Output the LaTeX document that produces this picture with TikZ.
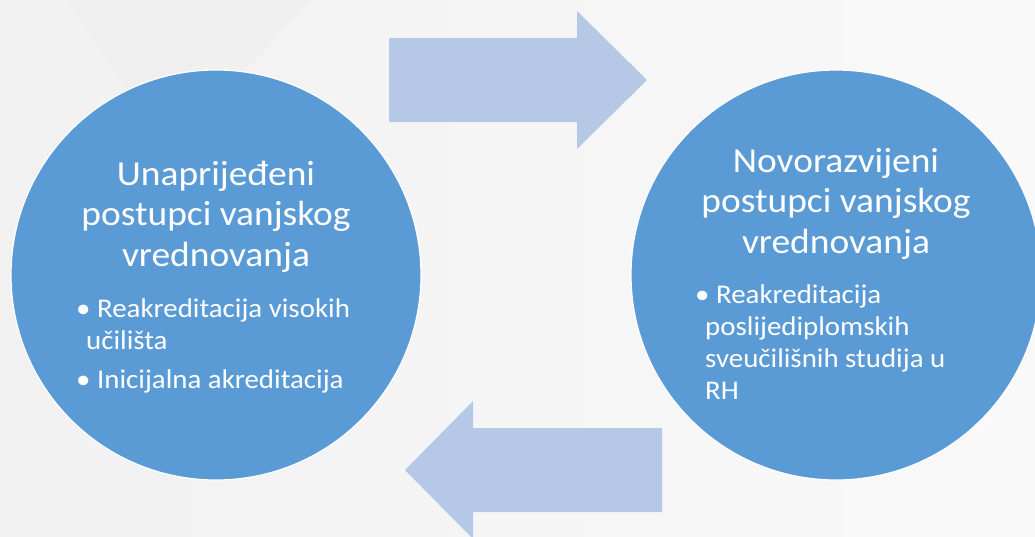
\documentclass[tikz,border=0pt]{standalone}
\usepackage{fontspec}
\setmainfont{Carlito}[FakeStretch=1.07]
\usepackage{xcolor}
\usepackage{tikz}
\usetikzlibrary{calc}
\definecolor{circblue}{HTML}{5B9BD5}
\definecolor{arrblue}{HTML}{B5C9E7}
\definecolor{bgleft}{HTML}{F1F1F1}
\definecolor{bgright}{HTML}{F9F9F9}
\definecolor{bgdark}{HTML}{EEEEEE}
\newcommand{\firstline}[1]{\rule{0pt}{#1}}
\tikzset{
    bigcirc/.style={draw=white, line width=1.2pt, fill=circblue, circle, inner sep=0pt, minimum size=410pt},
    title/.style={text=white, align=center, inner sep=0pt, font=\fontsize{35}{40.5}\selectfont},
    bullets/.style={text=white, align=left, inner sep=0pt, font=\fontsize{27}{32}\selectfont},
    blockarrow/.style={fill=arrblue, draw=none}}

\begin{document}
\begin{tikzpicture}[x=1pt,y=-1pt]
% background
\shade[left color=bgleft, right color=bgright] (0,0) rectangle (1035,536);
\fill[bgdark, opacity=0.5] (67,0) -- (310,0) -- (170,153) -- cycle;
\useasboundingbox (0,0) rectangle (1035,536);

\node[bigcirc] (c1) at (216,275) {};
\node[bigcirc] (c2) at (836,275) {};

% arrow to the right
\coordinate (r1) at (389,38);
\coordinate (r2) at (577,38);
\coordinate (r3) at (577,11);
\coordinate (r4) at (647,80);
\coordinate (r5) at (577,149);
\coordinate (r6) at (577,122);
\coordinate (r7) at (389,122);
\fill[blockarrow] (r1) -- (r2) -- (r3) -- (r4) -- (r5) -- (r6) -- (r7) -- cycle;

% arrow to the left
\coordinate (l1) at (662,428);
\coordinate (l2) at (473,428);
\coordinate (l3) at (473,401);
\coordinate (l4) at (405,470);
\coordinate (l5) at (473,539);
\coordinate (l6) at (473,512);
\coordinate (l7) at (662,512);
\fill[blockarrow] (l1) -- (l2) -- (l3) -- (l4) -- (l5) -- (l6) -- (l7) -- cycle;

\node[title, anchor=north] (t1) at (216,158) {\firstline{27pt}Unaprijeđeni\\postupci vanjskog\\vrednovanja};
\node[bullets, anchor=north west] (b1) at (76,296) {\firstline{21pt}•\ Reakreditacija visokih\\\hspace*{10pt}učilišta\\[7pt]•\ Inicijalna akreditacija};

\node[title, anchor=north] (t2) at (836,145) {\firstline{27pt}Novorazvijeni\\postupci vanjskog\\vrednovanja};
\node[bullets, anchor=north west] (b2) at (695,282) {\firstline{21pt}•\ Reakreditacija\\\hspace*{10pt}poslijediplomskih\\\hspace*{10pt}sveučilišnih studija u\\\hspace*{10pt}RH};
\end{tikzpicture}
\end{document}
